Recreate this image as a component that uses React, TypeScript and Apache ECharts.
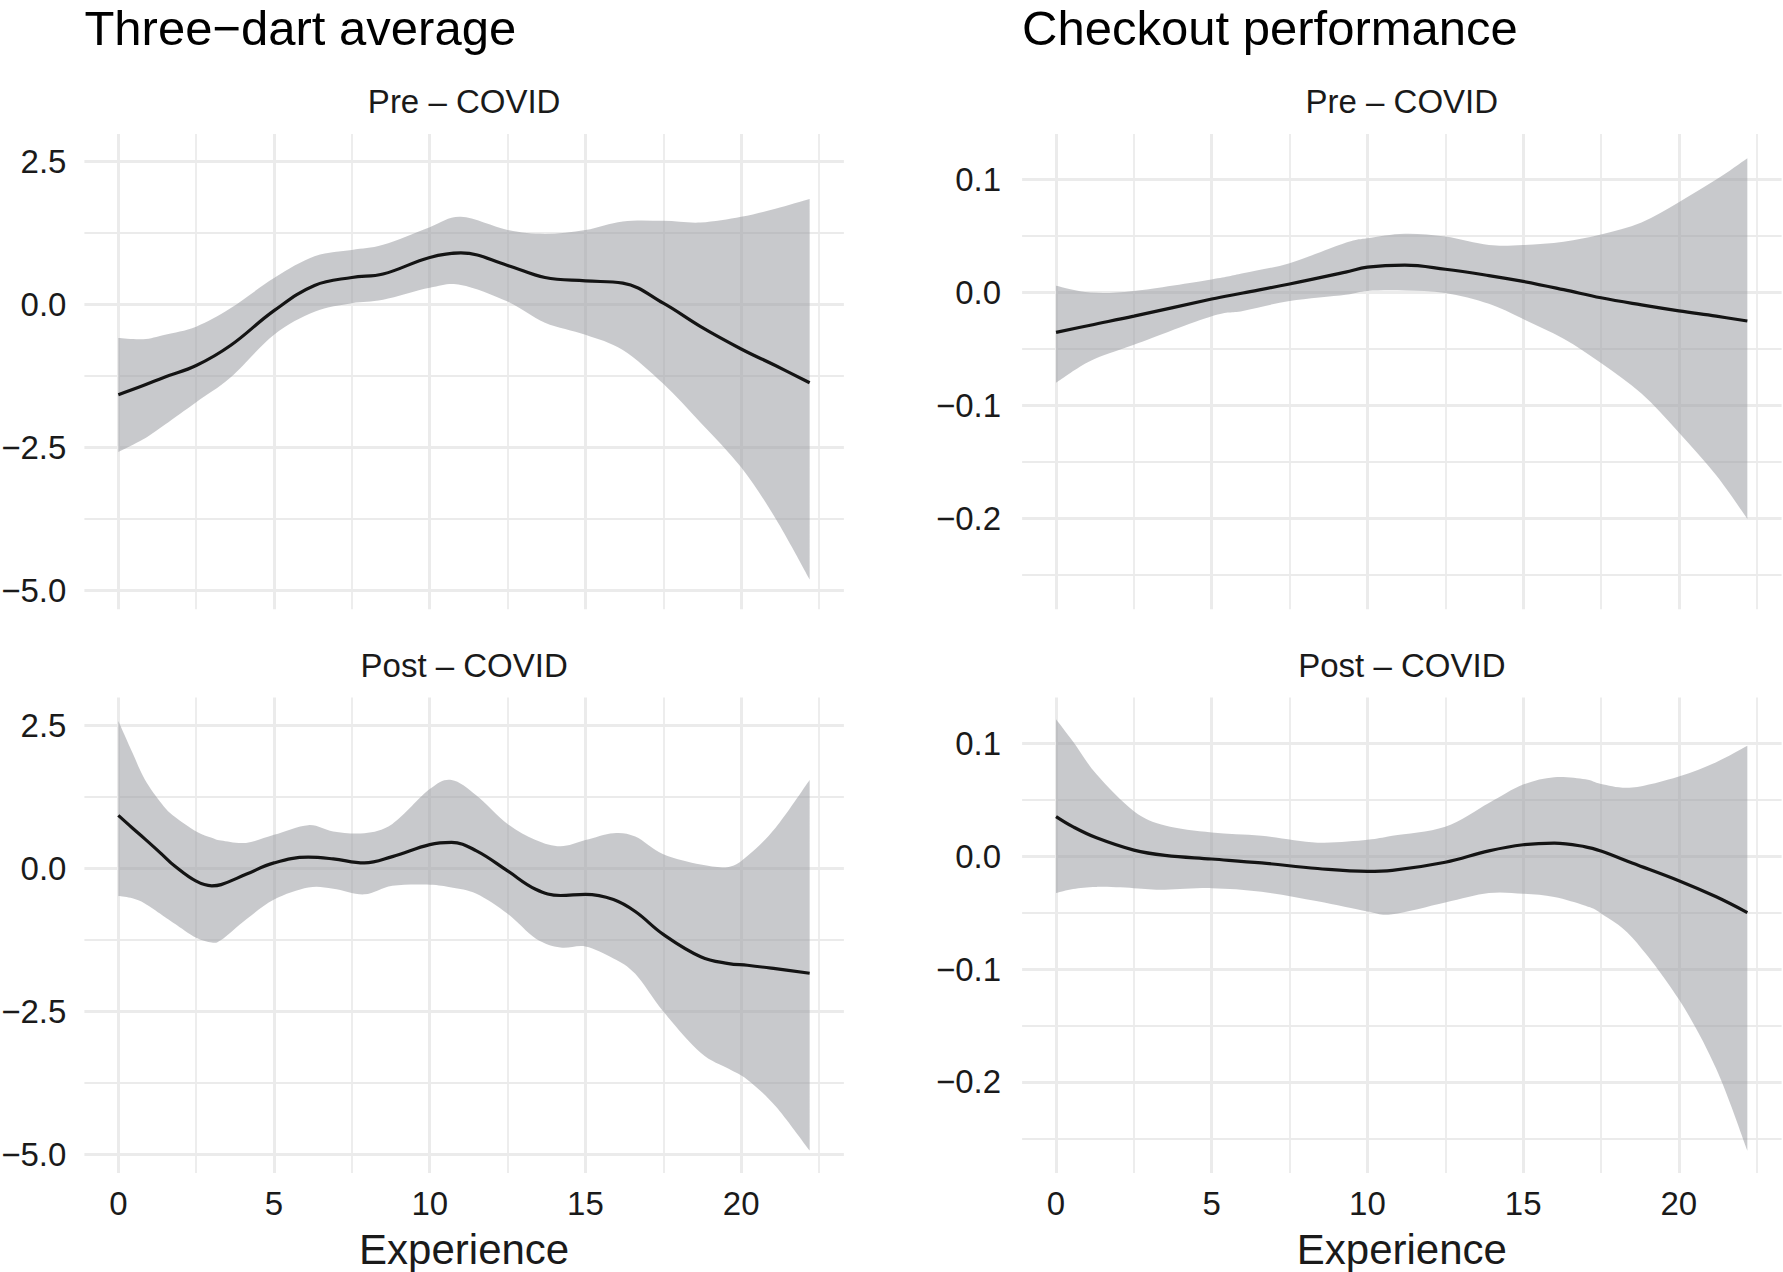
import React, { useEffect, useRef } from "react";
import * as echarts from "echarts";

// ---------- tick definitions ----------
const X_TICKS = [0, 5, 10, 15, 20];
const X_MINOR = [2.5, 7.5, 12.5, 17.5, 22.5];
const Y_TICKS_TDA = [-5, -2.5, 0, 2.5];
const Y_MINOR_TDA = [-3.75, -1.25, 1.25];
const Y_TICKS_CO = [-0.2, -0.1, 0, 0.1];
const Y_MINOR_CO = [-0.25, -0.15, -0.05, 0.05];

const TITLES = ["Three\u2212dart average", "Checkout performance"];
const PERIODS = ["Pre \u2013 COVID", "Post \u2013 COVID"];
const X_NAME = "Experience";

// ---------- Three-dart average, pre-COVID ----------
const TDA_PRE_X = [0, 0.8, 1.5, 2.5, 3.6, 5, 6.3, 7.5, 8.5, 10, 11, 12.5, 13.7, 15, 16.2, 17.5, 18.7, 20, 21.1, 22.2];
const TDA_PRE_FIT = [-1.58, -1.42, -1.27, -1.07, -0.72, -0.11, 0.33, 0.47, 0.53, 0.82, 0.9, 0.68, 0.47, 0.41, 0.37, 0.02, -0.39, -0.78, -1.07, -1.37];
const TDA_PRE_LO = [-2.58, -2.36, -2.1, -1.71, -1.28, -0.53, -0.13, 0.02, 0.08, 0.29, 0.34, 0.05, -0.32, -0.53, -0.8, -1.39, -2.07, -2.85, -3.74, -4.81];
const TDA_PRE_HI = [-0.59, -0.61, -0.53, -0.39, -0.07, 0.46, 0.84, 0.95, 1.04, 1.35, 1.53, 1.3, 1.23, 1.3, 1.45, 1.46, 1.43, 1.53, 1.67, 1.84];

// ---------- Three-dart average, post-COVID ----------
const TDA_POST_X = [0, 0.45, 0.85, 1.4, 1.8, 2.5, 3.0, 3.3, 4.1, 5, 6.1, 6.9, 7.9, 8.8, 10, 10.7, 11.5, 12.5, 13.4, 14.2, 15, 15.9, 16.6, 17.5, 18.7, 19.6, 20.2, 21.1, 22.2];
const TDA_POST_FIT = [0.92, 0.7, 0.51, 0.24, 0.04, -0.23, -0.31, -0.29, -0.11, 0.09, 0.19, 0.16, 0.09, 0.2, 0.41, 0.45, 0.3, -0.05, -0.37, -0.48, -0.46, -0.55, -0.76, -1.16, -1.55, -1.67, -1.7, -1.76, -1.84];
const TDA_POST_LO = [-0.49, -0.53, -0.62, -0.82, -0.97, -1.22, -1.3, -1.26, -0.9, -0.55, -0.34, -0.36, -0.46, -0.31, -0.29, -0.34, -0.45, -0.8, -1.23, -1.39, -1.37, -1.58, -1.85, -2.51, -3.23, -3.51, -3.7, -4.16, -4.94];
const TDA_POST_HI = [2.57, 2.02, 1.55, 1.12, 0.9, 0.64, 0.53, 0.48, 0.44, 0.58, 0.75, 0.64, 0.61, 0.77, 1.38, 1.54, 1.27, 0.77, 0.49, 0.38, 0.49, 0.61, 0.55, 0.24, 0.06, 0.02, 0.21, 0.7, 1.54];

// ---------- Checkout performance, pre-COVID ----------
const CO_PRE_X = [0, 1.1, 2.5, 5, 6, 7.5, 9.3, 10, 11.2, 12.5, 13.9, 15, 16.3, 17.5, 18.8, 20, 21.2, 22.2];
const CO_PRE_FIT = [-0.0354, -0.029, -0.021, -0.0058, -0.0005, 0.0075, 0.018, 0.0224, 0.0242, 0.0206, 0.015, 0.0098, 0.0025, -0.0047, -0.011, -0.0163, -0.021, -0.0253];
const CO_PRE_LO = [-0.08, -0.0607, -0.0463, -0.021, -0.0163, -0.0076, -0.002, 0.0014, 0.0018, -0.0004, -0.01, -0.0235, -0.041, -0.0625, -0.0896, -0.124, -0.162, -0.2006];
const CO_PRE_HI = [0.006, 0.0, 0.0014, 0.0116, 0.017, 0.026, 0.044, 0.048, 0.052, 0.0495, 0.042, 0.042, 0.045, 0.0513, 0.062, 0.08, 0.1, 0.119];

// ---------- Checkout performance, post-COVID ----------
const CO_POST_X = [0, 0.55, 1.3, 2.5, 3.5, 5, 6.6, 8.4, 10, 10.8, 12.5, 13.9, 15, 16, 17, 17.5, 18.5, 20, 21.2, 22.2];
const CO_POST_FIT = [0.0351, 0.026, 0.0163, 0.0054, 0.0007, -0.0025, -0.006, -0.0109, -0.0134, -0.0125, -0.0054, 0.0047, 0.0101, 0.0116, 0.0083, 0.0045, -0.006, -0.0217, -0.036, -0.05];
const CO_POST_LO = [-0.0326, -0.029, -0.0272, -0.0283, -0.0297, -0.0283, -0.0315, -0.0399, -0.0489, -0.0514, -0.041, -0.0326, -0.0333, -0.0362, -0.044, -0.0507, -0.072, -0.1268, -0.1884, -0.2609];
const CO_POST_HI = [0.1214, 0.1014, 0.0725, 0.0399, 0.0272, 0.021, 0.0181, 0.012, 0.0145, 0.018, 0.0261, 0.0471, 0.0634, 0.07, 0.0681, 0.064, 0.0609, 0.0707, 0.0833, 0.0978];

const FONT = "'Liberation Sans', Arial, Helvetica, sans-serif";
const TEXT_COLOR = "#1a1a1a";
const LINE_COLOR = "#141414";
const GRID_COLOR = "#ebebeb";
const RIBBON = "rgba(153,155,160,0.54)";

const X_MIN = -1.09;
const X_MAX = 23.3;
const Y_RANGE_TDA = [-5.33, 2.98];
const Y_RANGE_CO = [-0.2806, 0.1405];

const fmtY = (v: number) => (v < 0 ? "\u2212" + Math.abs(v).toFixed(1) : v.toFixed(1));

// Catmull-Rom style cubic curve through pixel points (rendering only)
function curveThrough(pts: number[][], move: boolean): string {
  let d = (move ? "M" : "L") + pts[0][0] + "," + pts[0][1];
  for (let i = 0; i < pts.length - 1; i++) {
    const p0 = pts[Math.max(i - 1, 0)];
    const p1 = pts[i];
    const p2 = pts[i + 1];
    const p3 = pts[Math.min(i + 2, pts.length - 1)];
    const c1x = p1[0] + (p2[0] - p0[0]) / 6;
    const c1y = p1[1] + (p2[1] - p0[1]) / 6;
    const c2x = p2[0] - (p3[0] - p1[0]) / 6;
    const c2y = p2[1] - (p3[1] - p1[1]) / 6;
    d += "C" + c1x + "," + c1y + "," + c2x + "," + c2y + "," + p2[0] + "," + p2[1];
  }
  return d;
}

export default function App() {
  const ref = useRef<HTMLDivElement>(null);

  useEffect(() => {
    if (!ref.current) return;
    const chart = echarts.init(ref.current, undefined, { renderer: "svg" });

    const panels = [
      { x: TDA_PRE_X, fit: TDA_PRE_FIT, lo: TDA_PRE_LO, hi: TDA_PRE_HI, col: 0, row: 0 },
      { x: CO_PRE_X, fit: CO_PRE_FIT, lo: CO_PRE_LO, hi: CO_PRE_HI, col: 1, row: 0 },
      { x: TDA_POST_X, fit: TDA_POST_FIT, lo: TDA_POST_LO, hi: TDA_POST_HI, col: 0, row: 1 },
      { x: CO_POST_X, fit: CO_POST_FIT, lo: CO_POST_LO, hi: CO_POST_HI, col: 1, row: 1 },
    ];

    const colLeft = [84.4, 1022.1];
    const rowTop = [133.9, 697.6];
    const pw = 759.5;
    const ph = 475.3;
    const yLabelMargin = [18, 21];

    const grids: any[] = [];
    const xAxes: any[] = [];
    const yAxes: any[] = [];
    const series: any[] = [];

    panels.forEach((p, g) => {
      grids.push({
        left: colLeft[p.col],
        top: rowTop[p.row],
        width: pw,
        height: ph,
        containLabel: false,
        outerBoundsMode: "none",
      });
      const isBottom = p.row === 1;
      const yTicks = p.col === 0 ? Y_TICKS_TDA : Y_TICKS_CO;
      const yMinor = p.col === 0 ? Y_MINOR_TDA : Y_MINOR_CO;
      const yRange = p.col === 0 ? Y_RANGE_TDA : Y_RANGE_CO;

      xAxes.push({
        type: "value",
        gridIndex: g,
        position: "bottom",
        min: X_MIN,
        max: X_MAX,
        axisLine: { show: false },
        axisTick: { show: false, customValues: X_TICKS },
        axisLabel: {
          show: isBottom,
          customValues: X_TICKS,
          fontSize: 33,
          color: TEXT_COLOR,
          fontFamily: FONT,
          margin: 14,
          formatter: (v: number) => String(v),
        },
        splitLine: { show: true, lineStyle: { color: GRID_COLOR, width: 3 } },
        name: isBottom ? X_NAME : "",
        nameLocation: "middle",
        nameGap: 59,
        nameTextStyle: { fontSize: 42, lineHeight: 36, color: TEXT_COLOR, fontFamily: FONT },
      });
      xAxes.push({
        type: "value",
        gridIndex: g,
        position: "top",
        min: X_MIN,
        max: X_MAX,
        axisLine: { show: false },
        axisTick: { show: false, customValues: X_MINOR },
        axisLabel: { show: false, customValues: X_MINOR },
        splitLine: { show: true, lineStyle: { color: GRID_COLOR, width: 1.8 } },
      });
      yAxes.push({
        type: "value",
        gridIndex: g,
        position: "left",
        min: yRange[0],
        max: yRange[1],
        axisLine: { show: false },
        axisTick: { show: false, customValues: yTicks },
        axisLabel: {
          show: true,
          customValues: yTicks,
          fontSize: 33,
          color: TEXT_COLOR,
          fontFamily: FONT,
          margin: yLabelMargin[p.col],
          formatter: fmtY,
        },
        splitLine: { show: true, lineStyle: { color: GRID_COLOR, width: 3 } },
      });
      yAxes.push({
        type: "value",
        gridIndex: g,
        position: "right",
        min: yRange[0],
        max: yRange[1],
        axisLine: { show: false },
        axisTick: { show: false, customValues: yMinor },
        axisLabel: { show: false, customValues: yMinor },
        splitLine: { show: true, lineStyle: { color: GRID_COLOR, width: 1.8 } },
      });

      // confidence ribbon
      series.push({
        type: "custom",
        xAxisIndex: 2 * g,
        yAxisIndex: 2 * g,
        data: p.x.map((x, i) => [x, p.lo[i], p.hi[i]]),
        encode: { x: 0, y: [1, 2] },
        silent: true,
        z: 2,
        renderItem: (params: any, api: any) => {
          if (params.dataIndexInside !== 0) return null;
          const n = params.dataInsideLength;
          const up: number[][] = [];
          const dn: number[][] = [];
          for (let i = 0; i < n; i++) {
            up.push(api.coord([api.value(0, i), api.value(2, i)]));
            dn.push(api.coord([api.value(0, i), api.value(1, i)]));
          }
          dn.reverse();
          const d = curveThrough(up, true) + curveThrough(dn, false) + "Z";
          return {
            type: "path",
            shape: { pathData: d },
            style: { fill: RIBBON, stroke: "none" },
          };
        },
      });
      // smooth fit
      series.push({
        type: "line",
        xAxisIndex: 2 * g,
        yAxisIndex: 2 * g,
        data: p.x.map((x, i) => [x, p.fit[i]]),
        smooth: 0.4,
        symbol: "none",
        lineStyle: { color: LINE_COLOR, width: 3.2 },
        silent: true,
        z: 3,
      });
    });

    const graphic: any[] = [];
    TITLES.forEach((t, c) => {
      graphic.push({
        type: "text",
        x: colLeft[c],
        y: 27.5,
        style: {
          text: t,
          fontSize: 49,
          lineHeight: 40,
          fontFamily: FONT,
          fill: "#000",
          align: "left",
          verticalAlign: "middle",
        },
      });
    });
    PERIODS.forEach((t, r) => {
      [0, 1].forEach((c) => {
        graphic.push({
          type: "text",
          x: colLeft[c] + pw / 2,
          y: rowTop[r] - 32.6,
          style: {
            text: t,
            fontSize: 33,
            fontFamily: FONT,
            fill: TEXT_COLOR,
            align: "center",
            verticalAlign: "middle",
          },
        });
      });
    });

    chart.setOption({
      animation: false,
      backgroundColor: "#ffffff",
      textStyle: { fontFamily: FONT },
      grid: grids,
      xAxis: xAxes,
      yAxis: yAxes,
      series,
      graphic,
    });

    return () => chart.dispose();
  }, []);

  return (
    <div
      ref={ref}
      style={{ position: "absolute", left: 0, top: 0, width: 1783, height: 1272 }}
    />
  );
}
